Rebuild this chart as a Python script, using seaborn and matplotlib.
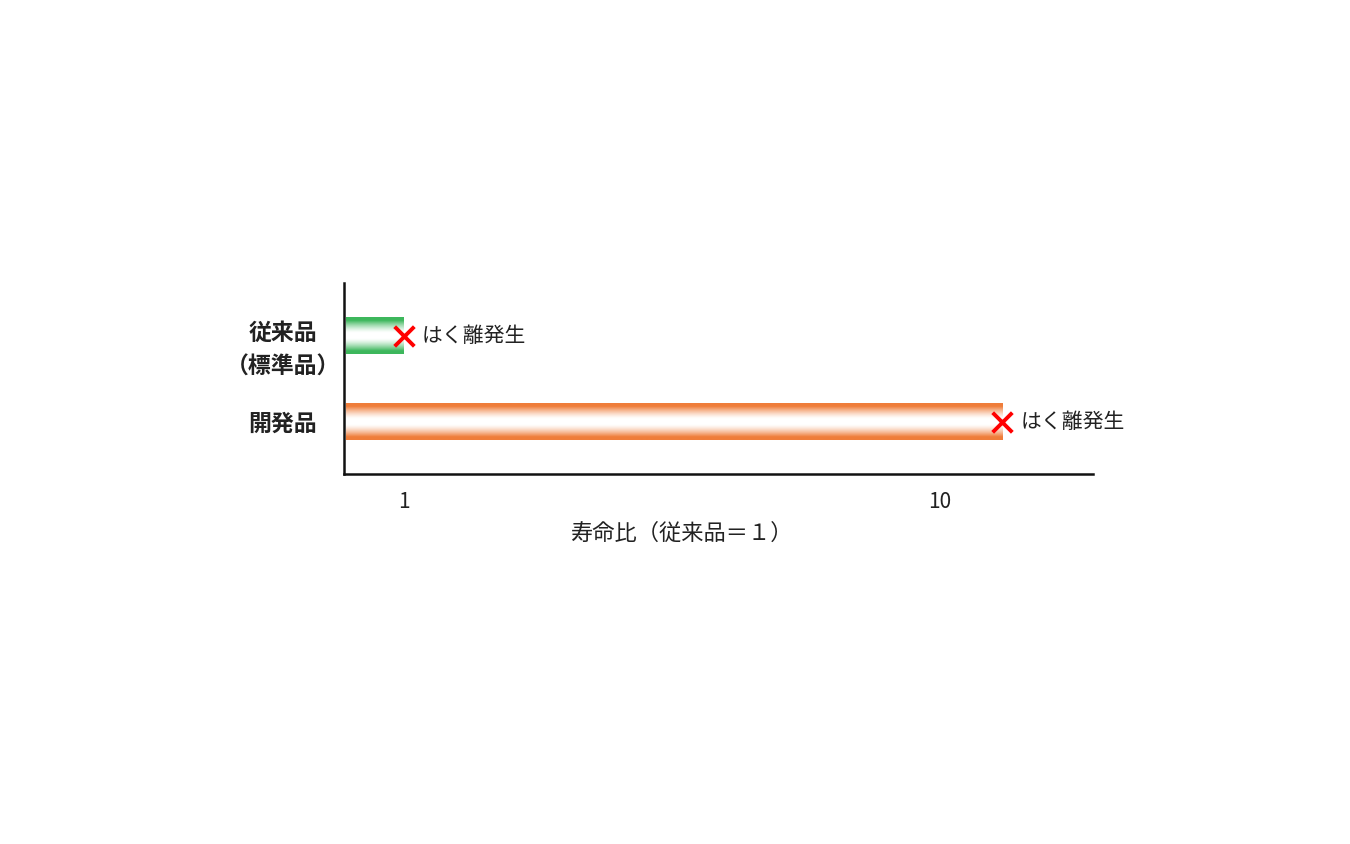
from matplotlib import pyplot as plt
from matplotlib.colors import LinearSegmentedColormap
from matplotlib.transforms import ScaledTranslation
import numpy as np
import pandas as pd
import seaborn as sns

categories = ['従来品\n（標準品）', '開発品']
life_ratio = [1, 11.05]
bar_colors = ['#3db75c', '#ef7d3a']
note = 'はく離発生'
x_ticks = [1, 10]
x_label = '寿命比（従来品＝１）'

sns.set_style('white')
plt.rcParams['font.family'] = ['Noto Sans CJK JP', 'DejaVu Sans']

df = pd.DataFrame({'product': categories, 'ratio': life_ratio})

fig = plt.figure(figsize=(13.5, 8.44), dpi=100)
ax = fig.add_axes([0.2548, 0.4384, 0.5548, 0.2263])
sns.barplot(df, x='ratio', y='product', orient='h', width=0.43,
            hue='product', palette=bar_colors, legend=False, ax=ax)

ax.set_xlim(0, 12.57)
ax.set_ylim(1.605, -0.616)

# vertical gradient: solid colour at the edges, white in the middle
t = np.abs(np.linspace(-1, 1, 200))
w = np.clip((t - 0.15) / 0.68, 0, 1) ** 1.4
for patch, color in zip(ax.patches, bar_colors):
    x0, y0 = patch.get_x(), patch.get_y()
    bw, bh = patch.get_width(), patch.get_height()
    cmap = LinearSegmentedColormap.from_list('g', ['white', color])
    img = ax.imshow(w[:, None], cmap=cmap, vmin=0, vmax=1, aspect='auto',
                    extent=(x0 + 0.03, x0 + bw, y0 + bh, y0), zorder=2)
    img.set_clip_path(patch)
    patch.set_facecolor('none')
    patch.set_edgecolor('none')

for i, val in enumerate(life_ratio):
    ax.scatter(val, i, marker='x', s=200, color='#ff0000', linewidths=2.8,
               zorder=4, clip_on=False)
    ax.annotate(note, (val, i), xytext=(13, 0), textcoords='offset points',
                va='center', ha='left', fontsize=15, color='#222222')

ax.set_xticks(x_ticks)
ax.set_xticklabels([str(v) for v in x_ticks], fontsize=15, color='#222222')
ax.tick_params(axis='x', length=0, pad=12)
ax.tick_params(axis='y', length=0, pad=44)
for k, lab in enumerate(ax.get_yticklabels()):
    lab.set_ha('center')
    lab.set_multialignment('center')
    lab.set_fontsize(16.5)
    lab.set_fontweight('bold')
    lab.set_color('#222222')
    lab.set_linespacing(1.65)
    if k == 0:
        lab.set_transform(lab.get_transform() +
                          ScaledTranslation(0, -0.06, fig.dpi_scale_trans))

ax.set_xlabel(x_label, fontsize=16, color='#222222')
ax.xaxis.set_label_coords(0.451, -0.312)
ax.xaxis.label.set_va('center')
ax.set_ylabel('')

sns.despine(ax=ax)
for side in ['left', 'bottom']:
    ax.spines[side].set_color('#111111')
    ax.spines[side].set_linewidth(1.8)

plt.savefig('out.png', dpi=100)
plt.close()
